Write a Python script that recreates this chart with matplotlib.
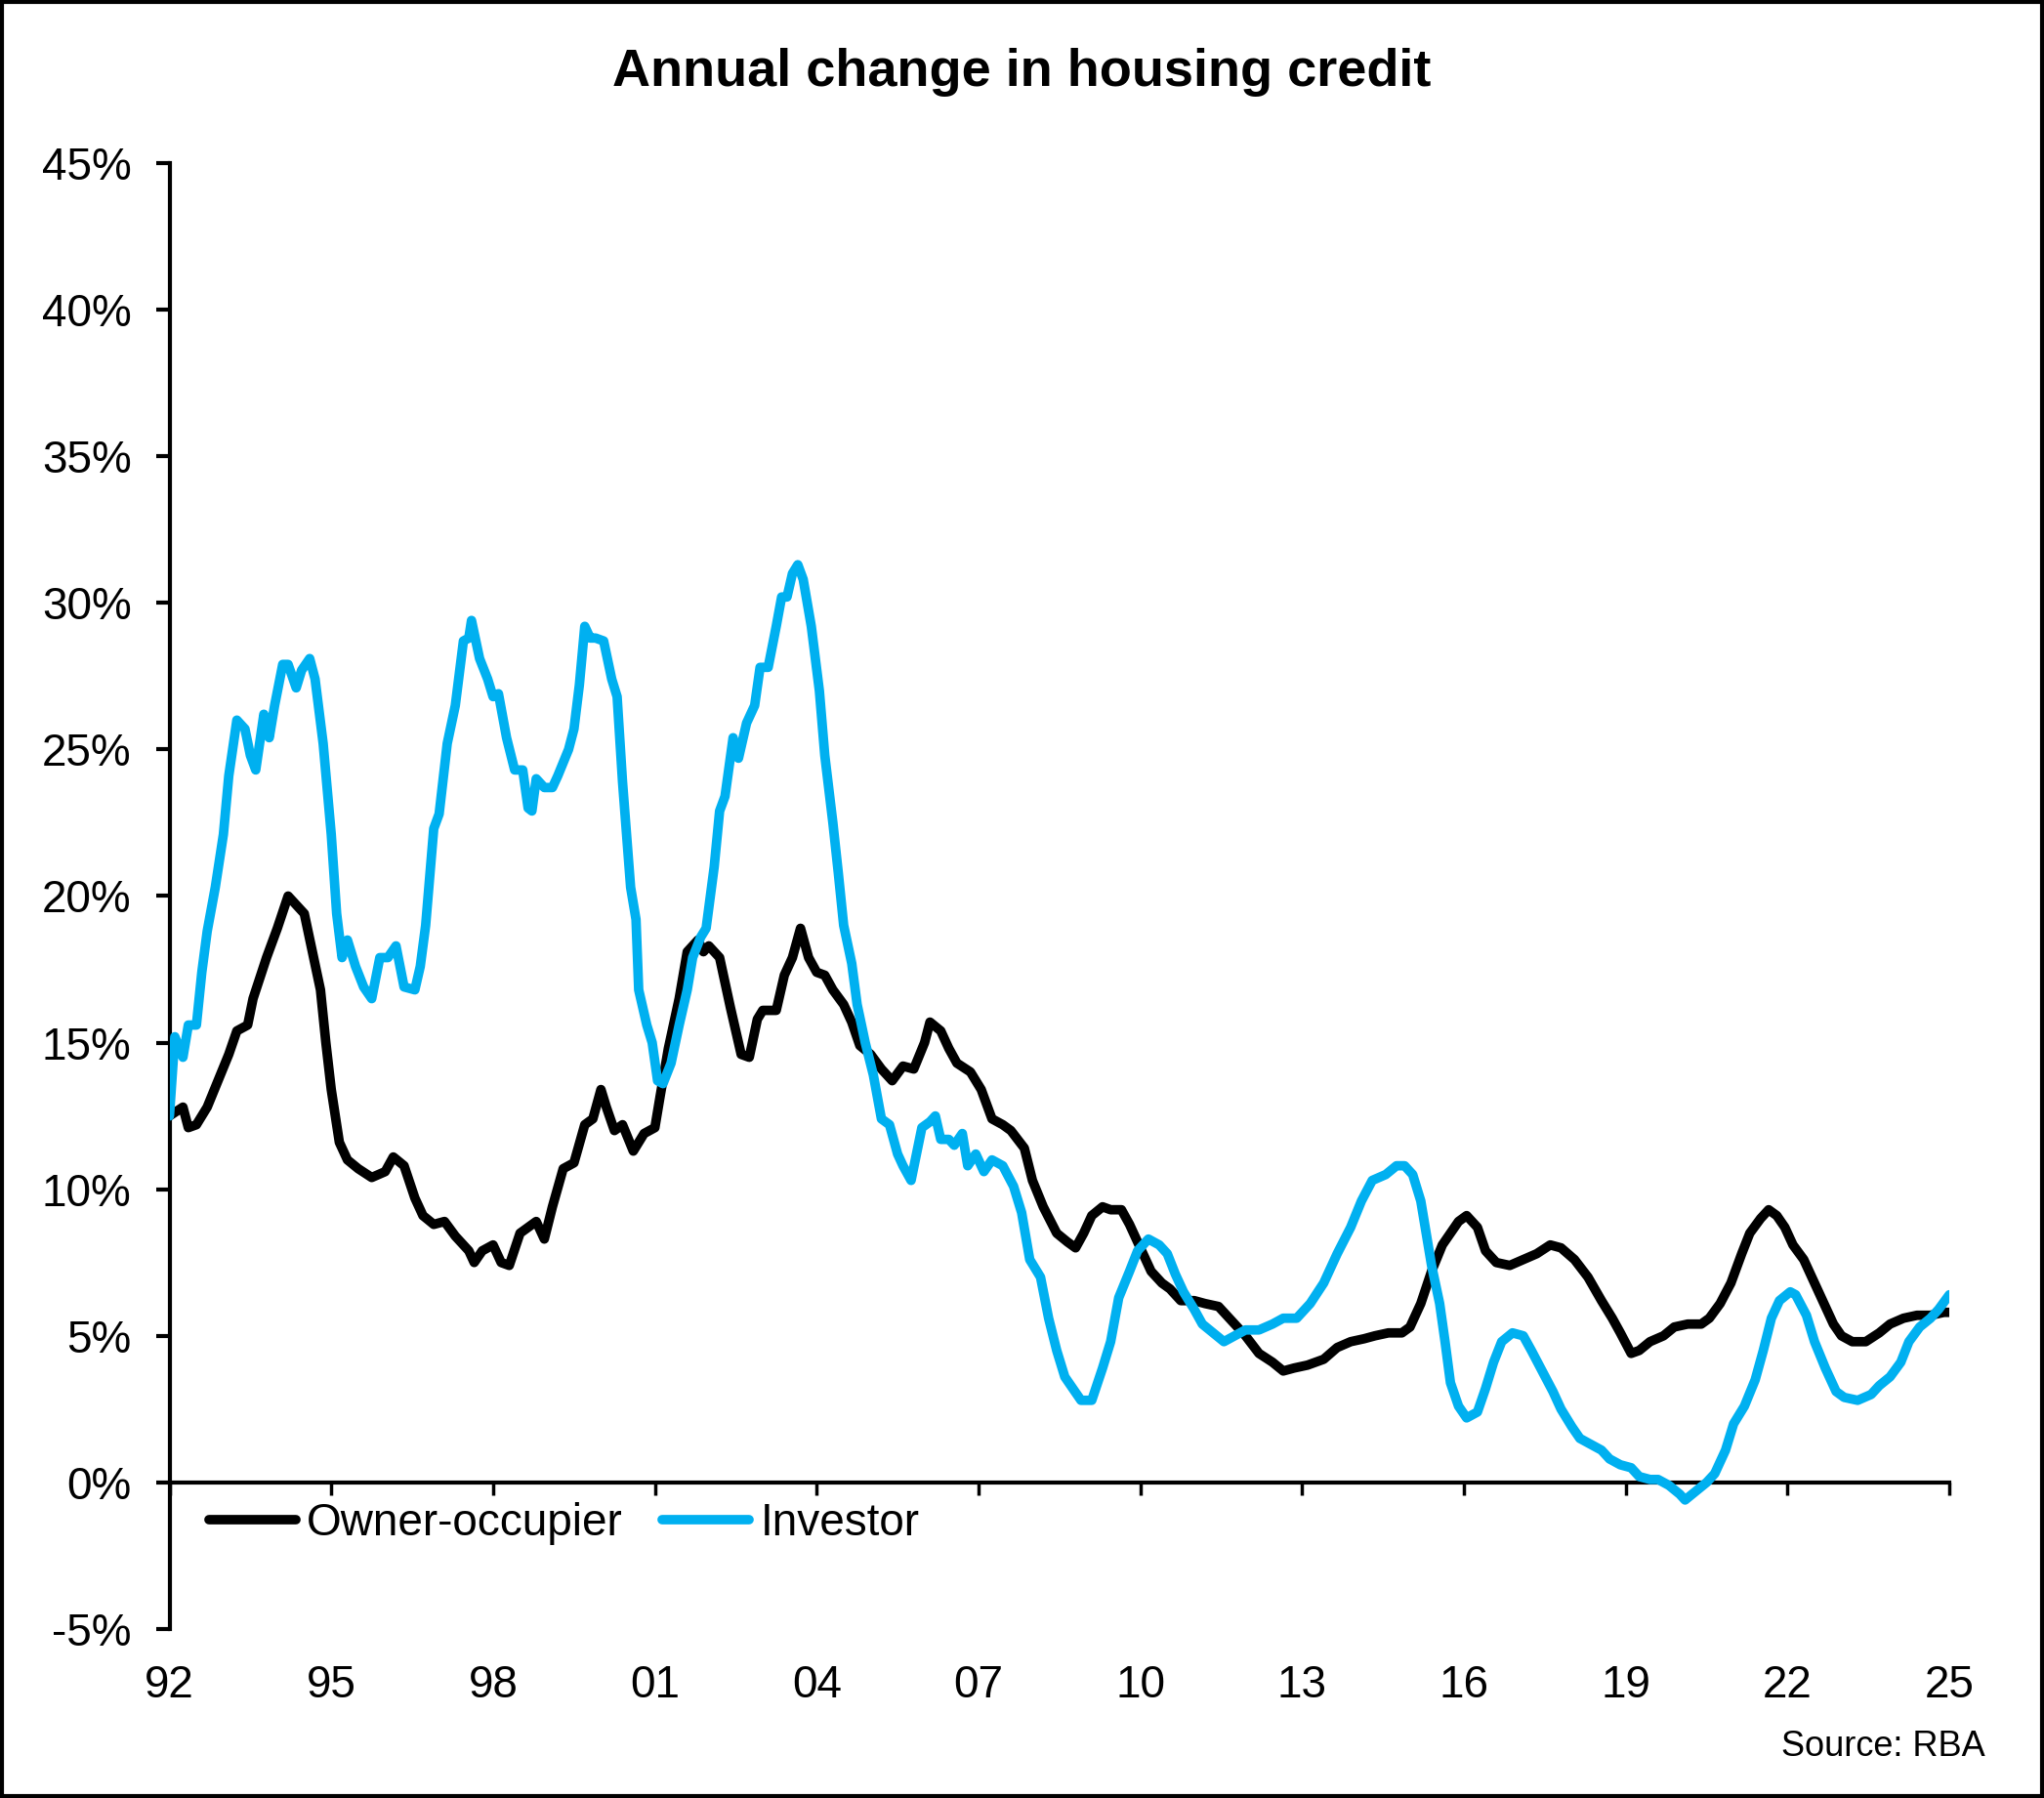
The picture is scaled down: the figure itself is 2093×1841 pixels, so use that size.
import numpy as np
import matplotlib.pyplot as plt
from matplotlib.patches import Rectangle

plt.rcParams['font.family'] = ['Liberation Sans', 'DejaVu Sans']

# Owner-occupier annual change (%)
oo_year = [1992.0, 1992.25, 1992.35, 1992.5, 1992.7, 1992.9, 1993.1, 1993.25, 1993.45, 1993.55,
           1993.8, 1994.0, 1994.2, 1994.4, 1994.5, 1994.65, 1994.8, 1994.9, 1995.0, 1995.15,
           1995.3, 1995.5, 1995.75, 1996.0, 1996.15, 1996.35, 1996.55, 1996.7, 1996.9, 1997.1,
           1997.3, 1997.55, 1997.65, 1997.8, 1998.0, 1998.15, 1998.3, 1998.5, 1998.65, 1998.8,
           1998.95, 1999.1, 1999.3, 1999.5, 1999.7, 1999.85, 2000.0, 2000.1, 2000.25, 2000.4,
           2000.6, 2000.8, 2001.0, 2001.1, 2001.25, 2001.45, 2001.6, 2001.8, 2001.9, 2002.0,
           2002.2, 2002.4, 2002.6, 2002.75, 2002.9, 2003.0, 2003.25, 2003.4, 2003.55, 2003.7,
           2003.85, 2004.0, 2004.15, 2004.3, 2004.5, 2004.65, 2004.8, 2005.0, 2005.2, 2005.4,
           2005.6, 2005.8, 2006.0, 2006.1, 2006.3, 2006.45, 2006.6, 2006.85, 2007.05, 2007.25,
           2007.45, 2007.6, 2007.85, 2008.0, 2008.2, 2008.45, 2008.65, 2008.8, 2008.95, 2009.1,
           2009.3, 2009.45, 2009.65, 2009.8, 2010.0, 2010.2, 2010.4, 2010.55, 2010.75, 2011.0,
           2011.2, 2011.45, 2011.7, 2011.95, 2012.2, 2012.45, 2012.65, 2012.85, 2013.1, 2013.4,
           2013.65, 2013.9, 2014.15, 2014.35, 2014.6, 2014.85, 2015.0, 2015.2, 2015.4, 2015.6,
           2015.75, 2015.9, 2016.05, 2016.25, 2016.4, 2016.6, 2016.85, 2017.1, 2017.35, 2017.6,
           2017.8, 2018.05, 2018.3, 2018.55, 2018.75, 2018.9, 2019.1, 2019.25, 2019.45, 2019.7,
           2019.9, 2020.15, 2020.4, 2020.55, 2020.75, 2020.95, 2021.15, 2021.3, 2021.5, 2021.65,
           2021.8, 2021.95, 2022.1, 2022.3, 2022.5, 2022.7, 2022.85, 2023.0, 2023.2, 2023.45,
           2023.7, 2023.9, 2024.15, 2024.4, 2024.65, 2024.9, 2025.0]
oo_value = [12.5, 12.8, 12.1, 12.2, 12.8, 13.7, 14.6, 15.4, 15.6, 16.5,
            17.9, 18.9, 20.0, 19.6, 19.4, 18.1, 16.8, 15.0, 13.4, 11.6,
            11.0, 10.7, 10.4, 10.6, 11.1, 10.8, 9.7, 9.1, 8.8, 8.9,
            8.4, 7.9, 7.5, 7.9, 8.1, 7.5, 7.4, 8.5, 8.7, 8.9,
            8.3, 9.4, 10.7, 10.9, 12.2, 12.4, 13.4, 12.8, 12.0, 12.2,
            11.3, 11.9, 12.1, 13.2, 14.8, 16.5, 18.1, 18.5, 18.1, 18.3,
            17.9, 16.2, 14.6, 14.5, 15.8, 16.1, 16.1, 17.3, 17.9, 18.9,
            17.9, 17.4, 17.3, 16.8, 16.3, 15.7, 14.9, 14.6, 14.1, 13.7,
            14.2, 14.1, 15.0, 15.7, 15.4, 14.8, 14.3, 14.0, 13.4, 12.4,
            12.2, 12.0, 11.4, 10.3, 9.4, 8.5, 8.2, 8.0, 8.5, 9.1,
            9.4, 9.3, 9.3, 8.8, 8.0, 7.2, 6.8, 6.6, 6.2, 6.2,
            6.1, 6.0, 5.5, 5.0, 4.4, 4.1, 3.8, 3.9, 4.0, 4.2,
            4.6, 4.8, 4.9, 5.0, 5.1, 5.1, 5.3, 6.1, 7.2, 8.1,
            8.5, 8.9, 9.1, 8.7, 7.9, 7.5, 7.4, 7.6, 7.8, 8.1,
            8.0, 7.6, 7.0, 6.2, 5.6, 5.1, 4.4, 4.5, 4.8, 5.0,
            5.3, 5.4, 5.4, 5.6, 6.1, 6.8, 7.8, 8.5, 9.0, 9.3,
            9.1, 8.7, 8.1, 7.6, 6.8, 6.0, 5.4, 5.0, 4.8, 4.8,
            5.1, 5.4, 5.6, 5.7, 5.7, 5.8, 5.8]

# Investor annual change (%)
inv_year = [1992.0, 1992.1, 1992.25, 1992.35, 1992.5, 1992.6, 1992.7, 1992.85, 1993.0, 1993.1,
            1993.25, 1993.4, 1993.5, 1993.6, 1993.75, 1993.85, 1993.95, 1994.1, 1994.2, 1994.35,
            1994.45, 1994.6, 1994.7, 1994.85, 1995.0, 1995.1, 1995.2, 1995.3, 1995.45, 1995.6,
            1995.75, 1995.9, 1996.05, 1996.2, 1996.35, 1996.55, 1996.65, 1996.75, 1996.9, 1997.0,
            1997.15, 1997.3, 1997.45, 1997.55, 1997.6, 1997.75, 1997.9, 1998.0, 1998.1, 1998.25,
            1998.4, 1998.55, 1998.65, 1998.72, 1998.8, 1998.95, 1999.1, 1999.2, 1999.4, 1999.5,
            1999.6, 1999.7, 1999.8, 1999.9, 2000.05, 2000.2, 2000.3, 2000.4, 2000.55, 2000.65,
            2000.7, 2000.85, 2000.95, 2001.05, 2001.15, 2001.3, 2001.45, 2001.6, 2001.7, 2001.85,
            2001.95, 2002.1, 2002.2, 2002.3, 2002.45, 2002.55, 2002.7, 2002.85, 2002.95, 2003.1,
            2003.25, 2003.35, 2003.45, 2003.55, 2003.65, 2003.75, 2003.9, 2004.05, 2004.15, 2004.3,
            2004.4, 2004.5, 2004.65, 2004.75, 2004.9, 2005.05, 2005.2, 2005.35, 2005.5, 2005.6,
            2005.75, 2005.85, 2005.95, 2006.1, 2006.2, 2006.3, 2006.45, 2006.55, 2006.7, 2006.8,
            2006.95, 2007.1, 2007.25, 2007.45, 2007.65, 2007.8, 2007.95, 2008.15, 2008.3, 2008.45,
            2008.6, 2008.75, 2008.9, 2009.1, 2009.3, 2009.45, 2009.6, 2009.8, 2009.95, 2010.15,
            2010.35, 2010.5, 2010.65, 2010.8, 2011.0, 2011.15, 2011.35, 2011.55, 2011.75, 2011.95,
            2012.2, 2012.45, 2012.65, 2012.9, 2013.15, 2013.4, 2013.65, 2013.9, 2014.1, 2014.3,
            2014.55, 2014.75, 2014.9, 2015.05, 2015.2, 2015.3, 2015.4, 2015.55, 2015.65, 2015.75,
            2015.9, 2016.05, 2016.25, 2016.4, 2016.55, 2016.7, 2016.9, 2017.1, 2017.25, 2017.45,
            2017.65, 2017.8, 2018.0, 2018.15, 2018.35, 2018.55, 2018.7, 2018.9, 2019.1, 2019.25,
            2019.45, 2019.6, 2019.8, 2020.0, 2020.1, 2020.3, 2020.5, 2020.65, 2020.85, 2021.0,
            2021.2, 2021.4, 2021.55, 2021.7, 2021.85, 2022.05, 2022.15, 2022.35, 2022.5, 2022.7,
            2022.9, 2023.05, 2023.3, 2023.55, 2023.7, 2023.9, 2024.1, 2024.25, 2024.45, 2024.65,
            2024.8, 2025.0]
inv_value = [12.5, 15.2, 14.5, 15.6, 15.6, 17.4, 18.8, 20.3, 22.1, 24.1,
             26.0, 25.7, 24.8, 24.3, 26.2, 25.4, 26.5, 27.9, 27.9, 27.1,
             27.7, 28.1, 27.4, 25.2, 22.1, 19.4, 17.9, 18.5, 17.6, 16.9,
             16.5, 17.9, 17.9, 18.3, 16.9, 16.8, 17.6, 19.0, 22.3, 22.8,
             25.2, 26.5, 28.7, 28.8, 29.4, 28.1, 27.4, 26.8, 26.9, 25.4,
             24.3, 24.3, 23.0, 22.9, 24.0, 23.7, 23.7, 24.1, 25.0, 25.7,
             27.2, 29.2, 28.8, 28.8, 28.7, 27.4, 26.8, 23.9, 20.3, 19.2,
             16.8, 15.6, 15.0, 13.7, 13.6, 14.3, 15.6, 16.8, 17.9, 18.6,
             18.9, 21.0, 22.9, 23.4, 25.4, 24.7, 25.9, 26.5, 27.8, 27.8,
             29.2, 30.2, 30.2, 31.0, 31.3, 30.8, 29.2, 27.0, 24.8, 22.5,
             20.8, 19.0, 17.7, 16.3, 15.0, 13.9, 12.4, 12.2, 11.2, 10.8,
             10.3, 11.2, 12.1, 12.3, 12.5, 11.7, 11.7, 11.5, 11.9, 10.8,
             11.2, 10.6, 11.0, 10.8, 10.1, 9.2, 7.6, 7.0, 5.6, 4.5,
             3.6, 3.2, 2.8, 2.8, 3.9, 4.8, 6.3, 7.2, 7.9, 8.3,
             8.1, 7.8, 7.1, 6.5, 5.9, 5.4, 5.1, 4.8, 5.0, 5.2,
             5.2, 5.4, 5.6, 5.6, 6.1, 6.8, 7.8, 8.7, 9.6, 10.3,
             10.5, 10.8, 10.8, 10.5, 9.6, 8.5, 7.4, 6.1, 4.8, 3.4,
             2.6, 2.2, 2.4, 3.2, 4.1, 4.8, 5.1, 5.0, 4.5, 3.8,
             3.1, 2.5, 1.9, 1.5, 1.3, 1.1, 0.8, 0.6, 0.5, 0.2,
             0.1, 0.1, -0.1, -0.4, -0.6, -0.3, 0.0, 0.3, 1.1, 2.0,
             2.6, 3.5, 4.5, 5.6, 6.2, 6.5, 6.4, 5.7, 4.8, 3.9,
             3.1, 2.9, 2.8, 3.0, 3.3, 3.6, 4.1, 4.8, 5.3, 5.6,
             5.9, 6.4]

x_ticks = list(range(1992, 2026, 3))
x_labels = [f"{y % 100:02d}" for y in x_ticks]
y_ticks = list(range(-5, 50, 5))
y_labels = [f"{v}%" for v in y_ticks]

fig = plt.figure(figsize=(20.93, 18.41), dpi=100)
ax = fig.add_axes([0.0829, 0.0940, 0.8708, 0.8153])

ax.plot(oo_year, oo_value, color='black', lw=7, solid_joinstyle='round',
        solid_capstyle='round', label='Owner-occupier', zorder=2)
ax.plot(inv_year, inv_value, color='#00B0F0', lw=7, solid_joinstyle='round',
        solid_capstyle='round', label='Investor', zorder=3)

ax.set_xlim(1992, 2025)
ax.set_ylim(-5, 45)

ax.spines['top'].set_visible(False)
ax.spines['right'].set_visible(False)
ax.spines['bottom'].set_position(('data', 0))
ax.spines['left'].set_linewidth(3)
ax.spines['bottom'].set_linewidth(3)

ax.set_yticks(y_ticks)
ax.set_yticklabels(y_labels)
ax.tick_params(axis='y', direction='out', length=10, width=3, pad=18, labelsize=33)

ax.set_xticks(x_ticks)
ax.tick_params(axis='x', direction='out', length=9, width=2.5, labelbottom=False)

# tick labels sit below the plot, not at the zero line
sec = ax.secondary_xaxis('bottom')
sec.set_xticks(x_ticks)
sec.set_xticklabels(x_labels)
sec.spines['bottom'].set_visible(False)
sec.tick_params(axis='x', length=0, pad=26, labelsize=33)

ax.legend(loc='center left', bbox_to_anchor=(0.022, 0.072), ncol=2, frameon=False,
          fontsize=33, borderpad=0, borderaxespad=0, handlelength=1.95,
          handletextpad=0.24, columnspacing=0.88)

fig.text(0.5, 1 - 74 / 1841, 'Annual change in housing credit', ha='center', va='center',
         fontsize=39, fontweight='bold')
fig.text(2033 / 2093, 1 - 1789 / 1841, 'Source: RBA', ha='right', va='center', fontsize=26)

fig.patches.append(Rectangle((0.001, 0.001), 0.998, 0.998, transform=fig.transFigure,
                             fill=False, edgecolor='black', lw=3))

fig.savefig('out.png', dpi=100)
